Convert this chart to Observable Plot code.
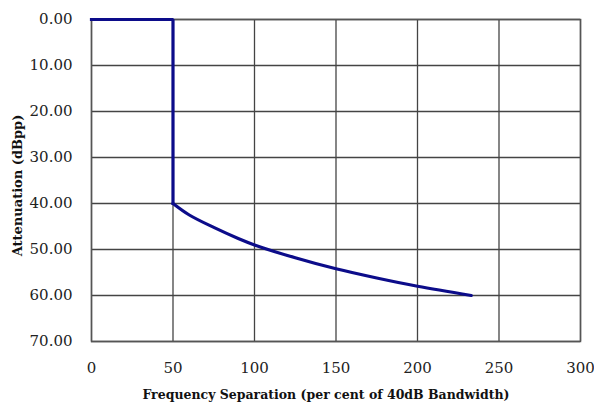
<!DOCTYPE html>
<html>
<head>
<meta charset="utf-8">
<script src="https://cdn.jsdelivr.net/npm/d3@7"></script>
<script src="https://cdn.jsdelivr.net/npm/@observablehq/plot@0.6"></script>
<style>
  html, body { margin: 0; padding: 0; background: #fff; }
  #chart svg { display: block; }
</style>
</head>
<body>
<div id="chart"></div>
<script>
// Data
const stepX = [0, 50, 50];
const stepY = [0, 0, 40];
const rolloffX = [50, 60, 75, 90, 100, 125, 150, 175, 200, 233];
const rolloffY = [40, 42.5, 45.2, 47.6, 49.0, 51.8, 54.2, 56.2, 58.0, 60.0];
const xTicks = [0, 50, 100, 150, 200, 250, 300];
const yTicks = [0, 10, 20, 30, 40, 50, 60, 70];
const xTitle = "Frequency Separation (per cent of 40dB Bandwidth)";
const yTitle = "Attenuation (dBpp)";

const stepData = stepX.map((x, i) => ({x, y: stepY[i]}));
const rolloffData = rolloffX.map((x, i) => ({x, y: rolloffY[i]}));

const chart = Plot.plot({
  width: 594,
  height: 407,
  marginLeft: 91,
  marginRight: 14,
  marginTop: 19,
  marginBottom: 66,
  style: {fontFamily: "'DejaVu Serif', serif", fontSize: "15px", color: "#222", background: "#fff"},
  x: {domain: [0, 300], ticks: xTicks},
  y: {domain: [0, 70], reverse: true, ticks: yTicks},
  marks: [
    Plot.gridX(xTicks, {stroke: "#444", strokeOpacity: 1, strokeWidth: 1.3}),
    Plot.gridY(yTicks, {stroke: "#444", strokeOpacity: 1, strokeWidth: 1.3}),
    Plot.frame({stroke: "#555", strokeWidth: 1.5}),
    Plot.axisX(xTicks, {tickSize: 0, tickPadding: 21, label: null, fontSize: 15}),
    Plot.axisY(yTicks, {tickSize: 0, tickPadding: 19, label: null, tickFormat: d3.format(".2f"), fontSize: 15}),
    Plot.line(stepData, {x: "x", y: "y", stroke: "#0c0c8a", strokeWidth: 3.2, strokeLinejoin: "miter", strokeLinecap: "square"}),
    Plot.line(rolloffData, {x: "x", y: "y", stroke: "#0c0c8a", strokeWidth: 3.2, strokeLinecap: "round", curve: "catmull-rom"}),
    Plot.text([xTitle], {frameAnchor: "bottom", dx: -10, dy: 57, fontWeight: "bold", fontSize: 12.5, fill: "#111", style: "letter-spacing:-0.9px"}),
    Plot.text([yTitle], {frameAnchor: "left", dx: -74, dy: 5, rotate: -90, textAnchor: "middle", fontWeight: "bold", fontSize: 13, fill: "#111"})
  ]
});
document.getElementById("chart").append(chart);
</script>
</body>
</html>
